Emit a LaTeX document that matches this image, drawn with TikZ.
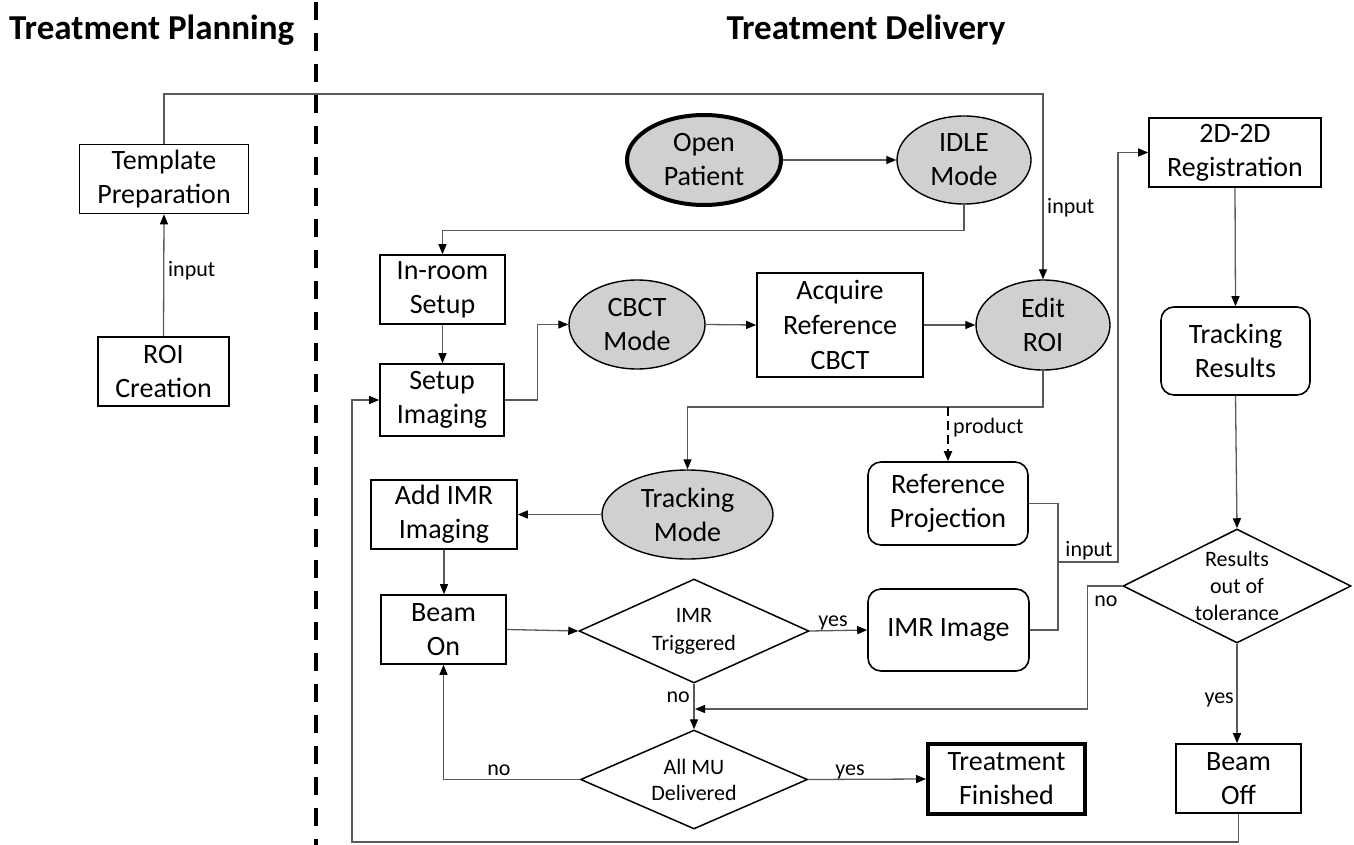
\documentclass[tikz,border=0pt]{standalone}
\usepackage{fontspec}
\setmainfont{Carlito}
\usetikzlibrary{shapes.geometric,arrows.meta}
\definecolor{fillg}{RGB}{208,208,208}
\definecolor{lineg}{RGB}{90,90,90}
\newcommand{\mainf}{\fontsize{28}{34}\selectfont}
\newcommand{\smallf}{\fontsize{22}{26}\selectfont}
\begin{document}
\begin{tikzpicture}[x=1pt,y=-1pt,
  >={Triangle[length=10pt,width=8pt]},
  box/.style={rectangle, draw, line width=1.6, inner sep=0, align=center, font=\mainf},
  rbox/.style={box, rounded corners=13},
  ell/.style={ellipse, draw, fill=fillg, line width=1.4, inner sep=0, align=center, font=\mainf},
  dia/.style={diamond, draw, line width=1.5, inner sep=0},
  conn/.style={draw=lineg, line width=1.3},
  arr/.style={conn, ->, >={Triangle[length=10pt,width=8pt,fill=black,color=black]}},
  lab/.style={font=\smallf, inner sep=0},
  title/.style={font=\fontsize{35}{40}\selectfont\bfseries, inner sep=0}
]
\useasboundingbox (0,0) rectangle (1354,845);

% titles
\node[title, anchor=base west] (tplan) at (9,40) {Treatment Planning};
\node[title, anchor=base] (tdel) at (866,40) {Treatment Delivery};

% separator
\coordinate (sepT) at (316,2);
\coordinate (sepB) at (316,845);
\draw[line width=4, dash pattern=on 18pt off 13pt] (sepT) -- (sepB);

% nodes
\node[box, minimum width=169, minimum height=69] (tp) at (164,179) {Template\\Preparation};
\node[box, minimum width=131, minimum height=69] (roi) at (163.5,371.5) {ROI\\Creation};
\node[ell, line width=4, minimum width=154, minimum height=90] (op) at (704,160) {Open\\Patient};
\node[ell, minimum width=134, minimum height=88] (idle) at (964,160) {IDLE\\Mode};
\node[box, minimum width=125, minimum height=69] (inroom) at (442.5,289.5) {In-room\\Setup};
\node[box, minimum width=124, minimum height=72] (setup) at (442,400) {Setup\\Imaging};
\node[ell, minimum width=136, minimum height=89] (cbct) at (637,324.5) {CBCT\\Mode};
\node[box, minimum width=166, minimum height=104, font=\fontsize{28}{35}\selectfont] (acq) at (840,325) {Acquire\\Reference\\CBCT};
\node[ell, minimum width=134, minimum height=90] (edit) at (1043,325) {Edit\\ROI};
\node[box, minimum width=172, minimum height=69] (reg) at (1235,152.5) {2D-2D\\Registration};
\node[rbox, minimum width=149, minimum height=88] (tr) at (1235.5,351) {Tracking\\Results};
\node[ell, minimum width=171, minimum height=89] (track) at (687.5,514.5) {Tracking\\Mode};
\node[box, minimum width=146, minimum height=69] (addimr) at (444,514.5) {Add IMR\\Imaging};
\node[box, minimum width=125, minimum height=69] (beamon) at (443.5,629.5) {Beam\\On};
\node[dia, minimum width=230, minimum height=104,
  label={[lab, align=center, font=\fontsize{22}{28}\selectfont]center:IMR\\Triggered}] (imrtrig) at (694,631) {};
\node[rbox, minimum width=160, minimum height=83] (refproj) at (948,503.5) {Reference\\Projection};
\node[rbox, minimum width=161, minimum height=82] (imrimg) at (948.5,630) {IMR Image};
\node[dia, minimum width=228, minimum height=114,
  label={[lab, align=center, font=\fontsize{22}{27}\selectfont]center:Results\\out of\\tolerance}] (results) at (1237,586) {};
\node[dia, minimum width=227, minimum height=99,
  label={[lab, align=center, font=\fontsize{22}{26}\selectfont]center:All MU\\Delivered}] (allmu) at (694,779.5) {};
\node[box, line width=4, minimum width=157, minimum height=70] (finished) at (1006.5,779) {Treatment\\Finished};
\node[box, minimum width=125, minimum height=69] (beamoff) at (1238.5,778.5) {Beam\\Off};

% bend coordinates
\coordinate (toprow) at (0,94);
\coordinate (prodrow) at (0,407);
\coordinate (j) at (1058,562);
\coordinate (k) at (1118,562);
\coordinate (mm) at (695,709);
\coordinate (bl) at (352,842);

% connectors
\draw[arr] (roi.north) -- (tp.south);
\node[lab, anchor=west] (lin1) at (168,271) {input};

\draw[arr] (tp.north) |- (edit.north |- toprow) -- (edit.north);
\node[lab, anchor=west] (lin2) at (1047,208) {input};

\draw[arr] (op.east) -- (idle.west);
\draw[arr] (idle.south) -- ++(0,26) -| (inroom.north);
\draw[arr] (inroom.south) -- (inroom.south |- setup.north);
\draw[arr] (setup.east) -- ++(33,0) |- (cbct.west);
\draw[arr] (cbct.east) -- (acq.west);
\draw[arr] (acq.east) -- (edit.west);
\draw[arr] (edit.south) |- (track.north |- prodrow) -- (track.north);
\draw[arr, dash pattern=on 9pt off 5pt, line width=1.8, draw=black] (refproj.north |- prodrow) -- (refproj.north);
\node[lab, anchor=west] (lprod) at (953,428) {product};

\draw[arr] (track.west) -- (addimr.east);
\draw[arr] (addimr.south) -- (addimr.south |- beamon.north);
\draw[arr] (beamon.east) -- (imrtrig.west);
\draw[arr] (imrtrig.east) -- (imrimg.west);
\node[lab, anchor=base] (lyes1) at (833,626) {yes};
\draw[arr] (imrtrig.south) -- (allmu.north);
\node[lab, anchor=east] (lno1) at (690,697) {no};
\draw[arr] (allmu.west) -| (beamon.south);
\node[lab, anchor=base] (lno2) at (499,775) {no};
\draw[arr] (allmu.east) -- (finished.west);
\node[lab, anchor=base] (lyes2) at (850,775) {yes};

\draw[conn] (refproj.east) -| (j);
\draw[conn] (imrimg.east) -| (j);
\draw[arr] (j) -- (k) |- (reg.west);
\node[lab, anchor=base] (lin3) at (1089,556) {input};

\draw[arr] (reg.south) -- (tr.north);
\draw[arr] (tr.south) -- (results.north);
\draw[arr] (results.west) -- ++(-35,0) |- (mm);
\node[lab, anchor=base] (lno3) at (1106,606) {no};
\draw[arr] (results.south) -- (results.south |- beamoff.north);
\node[lab, anchor=base east] (lyes3) at (1234,703) {yes};
\draw[arr] (beamoff.south) |- (bl) |- (setup.west);
\end{tikzpicture}
\end{document}
